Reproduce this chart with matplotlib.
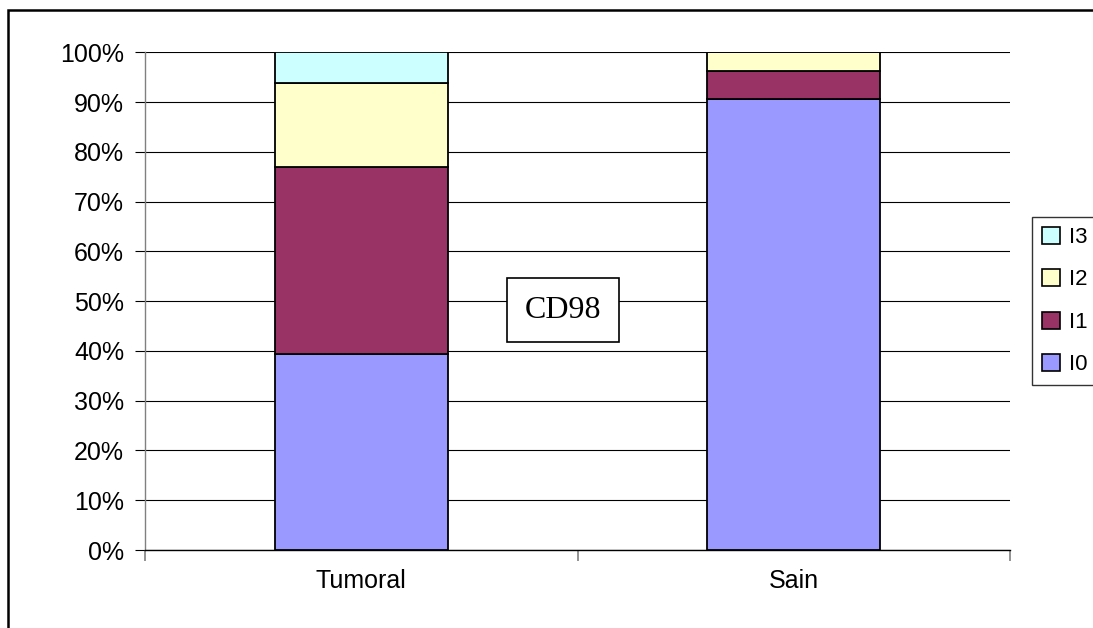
import numpy as np
import matplotlib
matplotlib.use("Agg")
import matplotlib.pyplot as plt
from matplotlib.patches import Rectangle, Patch

plt.rcParams['font.family'] = ['Liberation Sans', 'DejaVu Sans']

# data (percent of each group)
categories = ['Tumoral', 'Sain']
series = ['I0', 'I1', 'I2', 'I3']
I0 = [39.3, 90.7]
I1 = [37.7, 5.6]
I2 = [16.9, 3.7]
I3 = [6.1, 0.0]
colors = ['#9999FF', '#993366', '#FFFFCC', '#CCFFFF']
yticks = np.arange(0, 101, 10)

W, H = 1093, 628
fig = plt.figure(figsize=(W / 100, H / 100), dpi=100)
ax = fig.add_axes([145 / W, 1 - 550 / H, (1010 - 145) / W, (550 - 52.3) / H])

x = np.arange(len(categories))
bottom = np.zeros(len(categories))
for vals, c, name in zip([I0, I1, I2, I3], colors, series):
    vals = np.array(vals)
    ax.bar(x, vals, 0.4, bottom=bottom, color=c, edgecolor='black',
           linewidth=1.3, zorder=3, label=name)
    bottom = bottom + vals

ax.set_xlim(-0.5, 1.5)
ax.set_ylim(0, 100)
ax.set_yticks(yticks)
ax.set_yticklabels(['%d%%' % v for v in yticks], fontsize=18)
ax.yaxis.grid(True, color='black', linewidth=0.8, zorder=0)
ax.tick_params(axis='y', length=7, width=0.8, color='black', pad=8)

ax.set_xticks(x)
ax.set_xticklabels(categories, fontsize=18)
ax.tick_params(axis='x', which='major', length=0, pad=14)
ax.set_xticks([-0.5, 0.5, 1.5], minor=True)
ax.tick_params(axis='x', which='minor', length=8, width=1.2, color='#808080')

for s in ['top', 'right']:
    ax.spines[s].set_visible(False)
ax.spines['left'].set_color('#808080')
ax.spines['left'].set_linewidth(1.0)
ax.spines['bottom'].set_color('black')
ax.spines['bottom'].set_linewidth(1.0)

# CD98 text box
fig.text(563 / W, 1 - 310 / H, 'CD98', fontsize=23, family=['Liberation Serif'],
         ha='center', va='center',
         bbox=dict(boxstyle='square,pad=0.55', fc='white', ec='black', lw=1.2))

# legend, reversed order
handles = [Patch(facecolor=c, edgecolor='black', linewidth=1.2) for c in colors][::-1]
leg = fig.legend(handles, series[::-1], loc='center left',
                 bbox_to_anchor=(1032 / W, 1 - 301 / H), fontsize=16,
                 frameon=True, fancybox=False, edgecolor='black',
                 handlelength=0.8, handleheight=0.8, handletextpad=0.4,
                 labelspacing=0.95, borderpad=0.45, borderaxespad=0)
leg.get_frame().set_linewidth(1.0)

# outer border of the chart area
fig.add_artist(Rectangle((8 / W, -0.2), 2.0, 1.2 - 10 / H, transform=fig.transFigure,
                         fill=False, edgecolor='black', linewidth=1.8))

fig.savefig('out.png', dpi=100)
